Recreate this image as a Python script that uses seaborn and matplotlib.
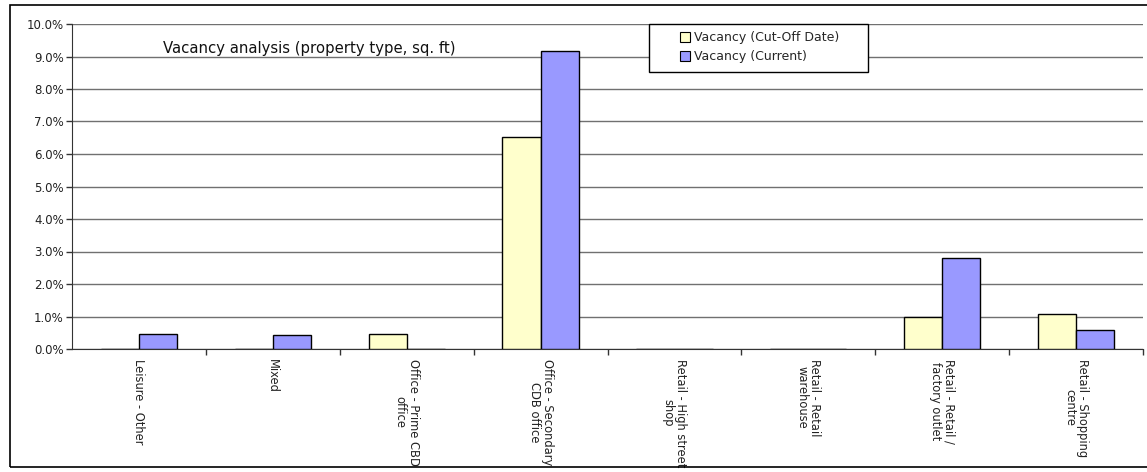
import pandas as pd
import seaborn as sns
import matplotlib.pyplot as plt
from matplotlib.ticker import PercentFormatter, FixedLocator
from matplotlib.patches import Rectangle

property_types = [
    'Leisure - Other',
    'Mixed',
    'Office - Prime CBD\noffice',
    'Office - Secondary\nCDB office',
    'Retail - High street\nshop',
    'Retail - Retail\nwarehouse',
    'Retail - Retail /\nfactory outlet',
    'Retail - Shopping\ncentre',
]
vacancy_cutoff = [0.0, 0.0, 0.0046, 0.0652, 0.0, 0.0, 0.0098, 0.0107]
vacancy_current = [0.0046, 0.0044, 0.0, 0.0917, 0.0, 0.0, 0.0280, 0.0058]
series_names = ['Vacancy (Cut-Off Date)', 'Vacancy (Current)']

df = pd.concat([
    pd.DataFrame({'Type': property_types, 'Vacancy': vacancy_cutoff, 'Series': series_names[0]}),
    pd.DataFrame({'Type': property_types, 'Vacancy': vacancy_current, 'Series': series_names[1]}),
], ignore_index=True)

sns.set_style('white')
plt.rcParams['font.family'] = ['DejaVu Sans']

W, H = 1147, 472
fig = plt.figure(figsize=(W / 100, H / 100), dpi=100)
ax = fig.add_axes([72 / W, 1 - 349 / H, (1143 - 72) / W, (349 - 24) / H])

sns.barplot(data=df, x='Type', y='Vacancy', hue='Series', ax=ax,
            palette=['#FFFFCC', '#9999FF'], width=0.57,
            edgecolor='black', linewidth=1.0, saturation=1, zorder=3)

ax.set_ylim(0, 0.10)
ax.set_xlim(-0.5, len(property_types) - 0.5)
ax.set_yticks([i / 100 for i in range(11)])
ax.yaxis.set_major_formatter(PercentFormatter(xmax=1, decimals=1))
ax.yaxis.grid(True, color='#707070', linewidth=1.0, zorder=0)
ax.set_axisbelow(True)

# category labels, tick marks on boundaries
ax.set_xticks(range(len(property_types)))
ax.set_xticklabels(property_types, rotation=270, ha='center', va='top',
                   fontsize=8.3, color='#222222', linespacing=1.0)
ax.tick_params(axis='x', which='major', length=0, pad=7)
ax.xaxis.set_minor_locator(FixedLocator([i + 0.5 for i in range(len(property_types))]))
ax.tick_params(axis='x', which='minor', bottom=True, length=4, direction='out',
               width=1, color='#333333')
ax.tick_params(axis='y', length=4, direction='out', width=1, color='#333333',
               labelsize=8.5, labelcolor='#222222', pad=2, left=True)

for side in ['top', 'right']:
    ax.spines[side].set_visible(False)
ax.spines['left'].set_color('#333333')
ax.spines['bottom'].set_color('#333333')
ax.set_xlabel('')
ax.set_ylabel('')

ax.text(0.085, 0.925, 'Vacancy analysis (property type, sq. ft)', transform=ax.transAxes,
        fontsize=10.7, color='#111111', ha='left', va='center')

# legend: entries without frame, separate box drawn behind
box = Rectangle((649 / W, 1 - 72 / H), (868 - 649) / W, (72 - 24) / H,
                transform=fig.transFigure, facecolor='white', edgecolor='black',
                linewidth=1.0, zorder=4)
fig.patches.append(box)
leg = fig.legend(*ax.get_legend_handles_labels(), loc='upper left',
                 bbox_to_anchor=(677 / W, 1 - 29 / H),
                 frameon=False, fontsize=9,
                 handlelength=0.85, handleheight=0.85, handletextpad=0.3,
                 borderpad=0.2, labelspacing=0.45, borderaxespad=0)
leg.set_zorder(6)
ax.get_legend().remove()
for h in leg.legend_handles:
    h.set_edgecolor('black')
    h.set_linewidth(0.8)

# outer chart frame
fig.patches.append(Rectangle((10 / W, 5 / H), 1150 / W, 462 / H,
                             transform=fig.transFigure, fill=False,
                             edgecolor='black', linewidth=1.2))

fig.savefig('out.png', dpi=100)
